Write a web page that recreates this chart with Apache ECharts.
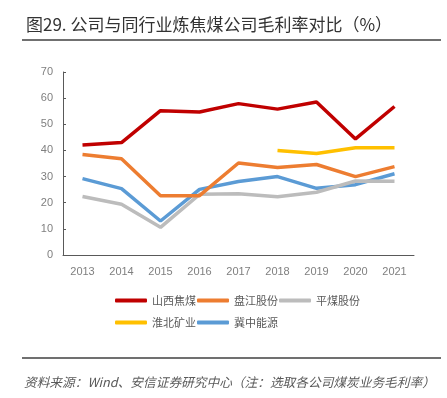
<!DOCTYPE html>
<html><head><meta charset="utf-8">
<script src="https://cdn.jsdelivr.net/npm/echarts@6/dist/echarts.min.js"></script>
<style>html,body{margin:0;padding:0;background:#fff}#c{width:447px;height:398px}</style>
</head><body><div id="c"></div>
<script>
const years = ['2013','2014','2015','2016','2017','2018','2019','2020','2021'];
const shanxi = [42.1, 43.0, 55.2, 54.7, 57.9, 55.8, 58.5, 44.4, 56.8];
const panjiang = [38.4, 36.8, 22.7, 22.7, 35.2, 33.5, 34.6, 30.0, 33.8];
const pingmei = [22.4, 19.4, 10.6, 23.2, 23.4, 22.3, 24.0, 28.3, 28.2];
const huaibei = [null, null, null, null, null, 40.0, 38.8, 41.0, 41.0];
const jizhong = [29.2, 25.4, 13.0, 25.1, 28.1, 30.0, 25.5, 26.9, 31.1];
const names = ['山西焦煤','盘江股份','平煤股份','淮北矿业','冀中能源'];
const colors = ['#C00000','#ED7D31','#BCBCBC','#FFC000','#5B9BD5'];
const seriesData = [shanxi, panjiang, pingmei, huaibei, jizhong];

const chart = echarts.init(document.getElementById('c'));
const legendText = {fontSize: 11, color: '#595959', fontFamily: 'Noto Sans CJK SC'};
chart.setOption({
  animation: false,
  title: {
    text: '图29. 公司与同行业炼焦煤公司毛利率对比（%）',
    left: 21, top: 11,
    textStyle: {fontSize: 17, fontWeight: 'normal', color: '#333', fontFamily: 'Noto Sans CJK SC'}
  },
  graphic: [
    {type: 'line', shape: {x1: 22, y1: 40, x2: 441, y2: 40}, style: {stroke: '#404040', lineWidth: 1.5}},
    {type: 'line', shape: {x1: 22, y1: 358, x2: 441, y2: 358}, style: {stroke: '#404040', lineWidth: 1.5}},
    {type: 'text', left: 24, top: 376, style: {
      text: '资料来源：Wind、安信证券研究中心（注：选取各公司煤炭业务毛利率）',
      font: 'italic 12.7px "Noto Sans CJK SC"', fill: '#595959'}}
  ],
  legend: [
    {data: names.slice(0,3), left: 110, top: 290, itemWidth: 32, itemHeight: 4, itemGap: 1,
     icon: 'roundRect', textStyle: legendText},
    {data: names.slice(3), left: 110, top: 312, itemWidth: 32, itemHeight: 4, itemGap: 1,
     icon: 'roundRect', textStyle: legendText}
  ],
  grid: {left: 63, right: 33, top: 72, bottom: 143},
  xAxis: {
    type: 'category', data: years, boundaryGap: true,
    axisLine: {lineStyle: {color: '#595959', width: 1}},
    axisTick: {inside: true, length: 4, lineStyle: {color: '#595959'}},
    axisLabel: {color: '#7f7f7f', fontSize: 11, margin: 11, fontFamily: 'Liberation Sans'}
  },
  yAxis: {
    type: 'value', min: 0, max: 70, interval: 10,
    axisLine: {show: true, lineStyle: {color: '#595959', width: 1}},
    axisTick: {show: true, inside: true, length: 3, lineStyle: {color: '#595959'}},
    axisLabel: {color: '#7f7f7f', fontSize: 11, margin: 10, fontFamily: 'Liberation Sans'},
    splitLine: {show: false}
  },
  series: [4,3,2,1,0].map(i => ({
    name: names[i], type: 'line', data: seriesData[i], symbol: 'none',
    lineStyle: {width: 3.5, color: colors[i]}, itemStyle: {color: colors[i]}, z: 10 - i
  }))
});
</script></body></html>
